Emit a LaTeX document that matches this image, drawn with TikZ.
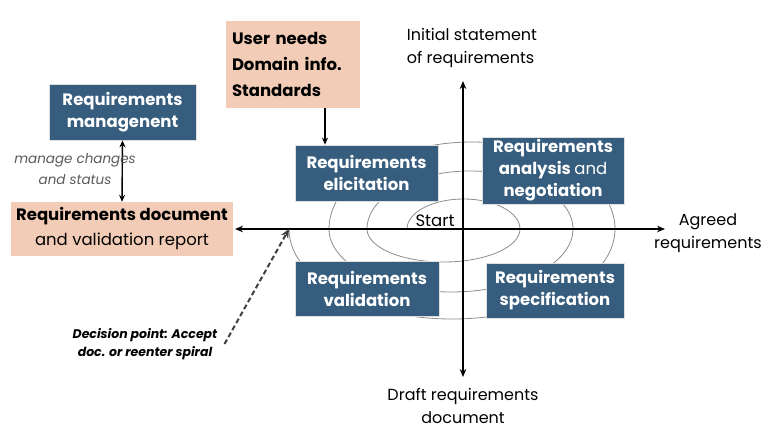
\documentclass[tikz,border=0pt]{standalone}
\usepackage{fontspec}
\setmainfont{Poppins}
\usetikzlibrary{arrows.meta}
\definecolor{boxblue}{RGB}{54,93,126}
\definecolor{peach}{RGB}{242,204,182}
\definecolor{spiralgray}{RGB}{140,140,140}
\definecolor{notegray}{RGB}{89,89,89}

\begin{document}
\begin{tikzpicture}[x=1pt, y=-1pt,
    bluebox/.style={fill=boxblue, draw=gray!25, line width=0.8pt, text=white,
      font=\bfseries\fontsize{16.5}{22}\selectfont, align=center, inner sep=0pt},
    peachbox/.style={fill=peach, inner sep=0pt, font=\fontsize{16.5}{25}\selectfont},
    axislabel/.style={font=\fontsize{16}{23.5}\selectfont, inner sep=0pt},
    axis/.style={line width=1.7pt, -{Stealth[length=8pt, width=6.5pt]}},
    arr/.style={line width=1.4pt, -{Stealth[length=7pt, width=6pt]}}]
    \useasboundingbox (0,0) rectangle (781,439);

    % spiral behind everything
    \draw[spiralgray, line width=0.8pt] (407,229)
        arc (180:360:56.5 and 30) arc (0:180:76.5 and 33)
        arc (180:360:103 and 58) arc (0:180:122 and 63)
        arc (180:360:143 and 87) arc (0:180:163 and 90);

    % axes
    \coordinate (O) at (463,229);
    \node[axislabel, align=left] (initial) at (472,48) {Initial statement\\of requirements};
    \node[axislabel, align=center] (draft) at (463,406) {Draft requirements\\document};
    \node[axislabel, align=center] (agreed) at (708,233) {Agreed\\requirements};
    \coordinate (top) at (463,81);
    \coordinate (bottom) at (463,377);
    \coordinate (right) at (665,229);
    \draw[axis] (O) -- (top);
    \draw[axis] (O) -- (bottom);
    \draw[axis] (O) -- (right);

    \node[font=\fontsize{16.5}{18}\selectfont, inner sep=0pt] (start) at (435,221) {Start};

    % activity boxes
    \node[bluebox, minimum width=143pt, minimum height=56pt] (elic) at (366.5,173) {Requirements\\elicitation};
    \node[bluebox, minimum width=142pt, minimum height=67pt] (anal) at (553,170.5)
        {Requirements\\analysis {\mdseries and}\\negotiation};
    \node[bluebox, minimum width=144pt, minimum height=55pt] (valid) at (367,288.5) {Requirements\\validation};
    \node[bluebox, minimum width=138pt, minimum height=55pt] (spec) at (555,290.5) {Requirements\\specification};
    \node[bluebox, minimum width=147pt, minimum height=56pt] (mgmt) at (122.5,112) {Requirements\\managenent};

    % inputs and outputs
    \node[peachbox, minimum width=134pt, minimum height=87pt, align=left, text width=122pt,
        font=\bfseries\fontsize{16.5}{26}\selectfont] (needs) at (293,64.5)
        {User needs\\Domain info.\\Standards};
    \node[peachbox, minimum width=222pt, minimum height=54pt, align=center] (doc) at (122,229)
        {\textbf{Requirements document}\\and validation report};

    \coordinate (left) at (235,229);
    \draw[axis] (O) -- (left);

    % connectors
    \draw[arr] ([xshift=32pt]needs.south) -- ([xshift=32pt]needs.south |- elic.north);
    \draw[arr, {Stealth[length=7pt, width=6pt]}-{Stealth[length=7pt, width=6pt]}] (mgmt.south) -- (doc.north);
    \node[font=\itshape\fontsize{13.5}{21}\selectfont, text=notegray, align=center, inner sep=0pt]
        (changes) at (75,169) {manage changes\\and status};

    \node[font=\bfseries\itshape\fontsize{12.5}{18}\selectfont, align=center, inner sep=0pt]
        (decision) at (145,344) {Decision point: Accept\\doc. or reenter spiral};
    \coordinate (dp) at (289,229);
    \draw[line width=2pt, dash pattern=on 5pt off 3pt, black!75, -{Stealth[length=9pt, width=8pt]}]
        ([xshift=7pt]decision.east) -- (dp);
\end{tikzpicture}
\end{document}
